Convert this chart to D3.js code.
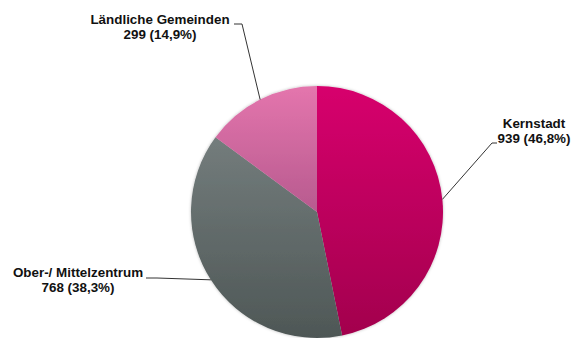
<!DOCTYPE html>
<html>
<head>
<meta charset="utf-8">
<script src="https://cdn.jsdelivr.net/npm/d3@7"></script>
<style>
  html, body { margin: 0; padding: 0; background: #fff; }
  svg { display: block; }
  text { font-family: "Liberation Sans", Arial, sans-serif; font-weight: bold; font-size: 13.4px; fill: #111; }
</style>
</head>
<body>
<script>
// Einwohner nach Gemeindetyp
const categories = ["Kernstadt", "Ober-/ Mittelzentrum", "Ländliche Gemeinden"];
const values = [939, 768, 299];
const colorTop = ["#d7006d", "#7d8686", "#e475ad"];
const colorBottom = ["#a2004d", "#4e5756", "#8a4070"];

const W = 573, H = 338;
const cx = 317, cy = 212, R = 126;

const svg = d3.select("body").append("svg").attr("width", W).attr("height", H);
const defs = svg.append("defs");

// soft halo around the pie
const f = defs.append("filter").attr("id", "halo").attr("x", "-10%").attr("y", "-10%").attr("width", "120%").attr("height", "120%");
f.append("feGaussianBlur").attr("in", "SourceAlpha").attr("stdDeviation", 1.6).attr("result", "b");
f.append("feFlood").attr("flood-color", "#000").attr("flood-opacity", 0.28);
f.append("feComposite").attr("in2", "b").attr("operator", "in").attr("result", "s");
const m = f.append("feMerge");
m.append("feMergeNode").attr("in", "s");
m.append("feMergeNode").attr("in", "SourceGraphic");

// vertical shading, top to bottom of the pie (in the pie group's local space)
categories.forEach((c, i) => {
  const g = defs.append("linearGradient").attr("id", "grad" + i)
    .attr("gradientUnits", "userSpaceOnUse")
    .attr("x1", 0).attr("y1", -R).attr("x2", 0).attr("y2", R);
  g.append("stop").attr("offset", 0).attr("stop-color", colorTop[i]);
  g.append("stop").attr("offset", 1).attr("stop-color", colorBottom[i]);
});

const total = d3.sum(values);
const pie = d3.pie().sort(null).value(d => d)(values);
const arc = d3.arc().innerRadius(0).outerRadius(R);

const gPie = svg.append("g").attr("transform", `translate(${cx},${cy})`).attr("filter", "url(#halo)");
gPie.selectAll("path").data(pie).join("path")
  .attr("d", arc)
  .attr("fill", (d, i) => `url(#grad${i})`);

const fmtPct = v => d3.format(".1f")(v).replace(".", ",");

// label anchors (centre of text block, first baseline) and leader elbow
const labels = [
  { x: 534, y: 128, elbow: [492, 143], tail: [497, 143] },
  { x: 78,  y: 277, elbow: [157, 278], tail: [146, 278] },
  { x: 160, y: 24,  elbow: [242, 24],  tail: [234, 24] }
];

pie.forEach((d, i) => {
  const a = (d.startAngle + d.endAngle) / 2;
  const ex = cx + R * Math.sin(a), ey = cy - R * Math.cos(a);
  const L = labels[i];
  svg.append("path")
    .attr("d", d3.line()([[ex, ey], L.elbow, L.tail]))
    .attr("fill", "none").attr("stroke", "#333").attr("stroke-width", 1);
  const t = svg.append("text").attr("text-anchor", "middle");
  t.append("tspan").attr("x", L.x).attr("y", L.y).text(categories[i]);
  t.append("tspan").attr("x", L.x).attr("y", L.y + 15)
    .text(`${values[i]} (${fmtPct(values[i] / total * 100)}%)`);
});
</script>
</body>
</html>
